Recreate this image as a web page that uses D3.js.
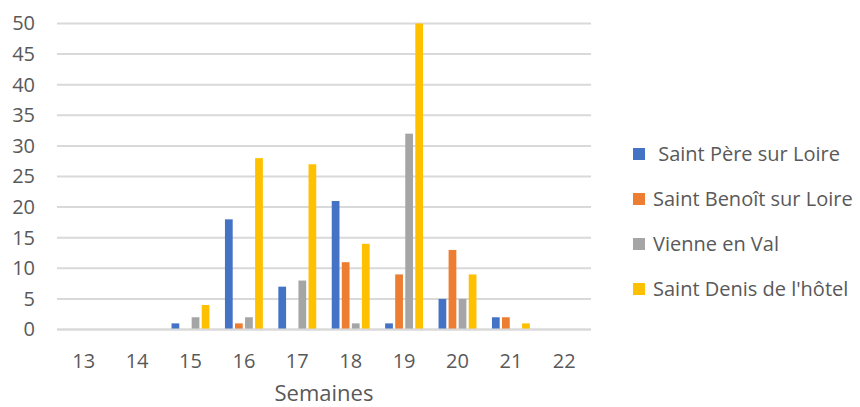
<!DOCTYPE html>
<html>
<head>
<meta charset="utf-8">
<script src="https://cdn.jsdelivr.net/npm/d3@7"></script>
<style>
  html, body { margin: 0; padding: 0; background: #fff; }
  svg { display: block; }
  text { font-family: "Open Sans", "Noto Sans", sans-serif; fill: #595959; }
</style>
</head>
<body>
<svg id="chart" width="860" height="407"></svg>
<script>
// Weekly counts per commune
const semaines = ["13", "14", "15", "16", "17", "18", "19", "20", "21", "22"];
const communes = [" Saint Père sur Loire", "Saint Benoît sur Loire", "Vienne en Val", "Saint Denis de l'hôtel"];
const saintPere   = [0, 0, 1, 18, 7, 21, 1, 5, 2, 0];
const saintBenoit = [0, 0, 0, 1, 0, 11, 9, 13, 2, 0];
const vienne      = [0, 0, 2, 2, 8, 1, 32, 5, 0, 0];
const saintDenis  = [0, 0, 4, 28, 27, 14, 50, 9, 1, 0];
const yTicks = [0, 5, 10, 15, 20, 25, 30, 35, 40, 45, 50];
const colors = ["#4472C4", "#ED7D31", "#A5A5A5", "#FFC000"];

const seriesValues = [saintPere, saintBenoit, vienne, saintDenis];

const svg = d3.select("#chart");
const plot = { left: 57, right: 591, top: 23.5, bottom: 329.5 };

const x0 = d3.scaleBand().domain(semaines).range([plot.left, plot.right]).paddingInner(0.29).paddingOuter(0.145);
const x1 = d3.scaleBand().domain(d3.range(communes.length)).range([0, x0.bandwidth()]).paddingInner(0.23);
const y = d3.scaleLinear().domain([0, 50]).range([plot.bottom, plot.top]);
const color = d3.scaleOrdinal().domain(d3.range(communes.length)).range(colors);

// Horizontal gridlines
svg.append("g")
  .selectAll("line")
  .data(yTicks)
  .join("line")
  .attr("x1", plot.left).attr("x2", plot.right)
  .attr("y1", d => y(d)).attr("y2", d => y(d))
  .attr("stroke", "#d9d9d9")
  .attr("stroke-width", 2);

// Y axis labels
const yAxis = d3.axisLeft(y).tickValues(yTicks).tickSize(0).tickPadding(0);
svg.append("g")
  .attr("transform", `translate(${plot.left - 22},0)`)
  .call(yAxis)
  .call(g => g.select(".domain").remove())
  .call(g => g.selectAll("text").attr("font-size", 20).attr("fill", "#595959").attr("font-family", null));

// Bars
const groups = svg.append("g")
  .selectAll("g")
  .data(semaines.map((s, i) => ({ s, vals: seriesValues.map(v => v[i]) })))
  .join("g")
  .attr("transform", d => `translate(${x0(d.s)},0)`);

groups.selectAll("rect")
  .data(d => d.vals.map((v, k) => ({ v, k })))
  .join("rect")
  .attr("x", d => x1(d.k))
  .attr("width", x1.bandwidth())
  .attr("y", d => y(d.v))
  .attr("height", d => y(0) - y(d.v))
  .attr("fill", d => color(d.k));

// Baseline
svg.append("line")
  .attr("x1", plot.left).attr("x2", plot.right)
  .attr("y1", y(0)).attr("y2", y(0))
  .attr("stroke", "#d9d9d9")
  .attr("stroke-width", 2);

// X axis labels
const xAxis = d3.axisBottom(x0).tickSize(0).tickPadding(0);
svg.append("g")
  .attr("transform", `translate(0,${plot.bottom + 24})`)
  .call(xAxis)
  .call(g => g.select(".domain").remove())
  .call(g => g.selectAll("text").attr("font-size", 20).attr("fill", "#595959").attr("font-family", null));

// Axis title
svg.append("text")
  .attr("x", (plot.left + plot.right) / 2)
  .attr("y", 401)
  .attr("text-anchor", "middle")
  .attr("font-size", 22)
  .text("Semaines");

// Legend
const legend = svg.append("g")
  .selectAll("g")
  .data(communes)
  .join("g")
  .attr("transform", (d, i) => `translate(633,${154 + i * 45})`);

legend.append("rect")
  .attr("x", 0).attr("y", -6)
  .attr("width", 12).attr("height", 12)
  .attr("fill", (d, i) => color(i));

legend.append("text")
  .attr("x", 20)
  .attr("y", 0)
  .attr("dy", "0.35em")
  .attr("font-size", 20)
  .style("white-space", "pre")
  .text(d => d);
</script>
</body>
</html>
